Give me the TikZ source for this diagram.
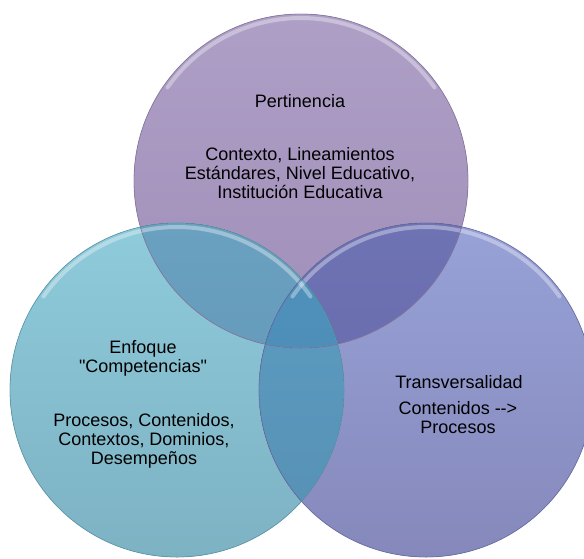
\documentclass[tikz,border=0pt]{standalone}
\usepackage{fontspec}
\setmainfont{Liberation Sans}[Ligatures=TeXOff]
\definecolor{topA}{HTML}{AE9FC7}
\definecolor{topB}{HTML}{A08FB8}
\definecolor{leftA}{HTML}{8ECBDB}
\definecolor{leftB}{HTML}{7DB2C3}
\definecolor{rightA}{HTML}{97A2D7}
\definecolor{rightB}{HTML}{8688BB}
\definecolor{tlA}{HTML}{6BA1C0}
\definecolor{tlB}{HTML}{5E93B3}
\definecolor{trA}{HTML}{6E73B4}
\definecolor{trB}{HTML}{6465A7}
\definecolor{lrA}{HTML}{5C9DC2}
\definecolor{lrB}{HTML}{5790B4}
\definecolor{midA}{HTML}{4F92BC}
\definecolor{midB}{HTML}{4A8AB4}
\definecolor{rimTop}{HTML}{8A7AA2}
\definecolor{rimLeft}{HTML}{5E9AAE}
\definecolor{rimRight}{HTML}{6B70A8}
\tikzset{
  lbl/.style={align=center, inner sep=0pt, font=\fontsize{18}{19}\selectfont, text=black},
  rim/.style={line width=0.8pt, draw opacity=0.8},
  glow/.style={white, line width=4pt, draw opacity=0.35, line cap=round}
}
\begin{document}
\begin{tikzpicture}[x=1pt,y=1pt]
\useasboundingbox (0,0) rectangle (584,-558);
\def\R{167}
\coordinate (pt) at (301,-181);
\coordinate (pl) at (177,-390);
\coordinate (pr) at (426,-390);
% base fills
\fill[top color=topA, bottom color=topB] (pt) circle (\R);
\fill[top color=leftA, bottom color=leftB] (pl) circle (\R);
\fill[top color=rightA, bottom color=rightB] (pr) circle (\R);
% pairwise overlaps
\begin{scope}
  \clip (pt) circle (\R);
  \fill[top color=tlA, bottom color=tlB] (pl) circle (\R);
  \fill[top color=trA, bottom color=trB] (pr) circle (\R);
\end{scope}
\begin{scope}
  \clip (pl) circle (\R);
  \fill[top color=lrA, bottom color=lrB] (pr) circle (\R);
\end{scope}
\begin{scope}
  \clip (pt) circle (\R);
  \clip (pl) circle (\R);
  \fill[top color=midA, bottom color=midB] (pr) circle (\R);
\end{scope}
% top glows
\draw[glow] ([shift={(35:\R-4)}]pt) arc[start angle=35, end angle=145, radius=\R-4];
\draw[glow] ([shift={(35:\R-4)}]pl) arc[start angle=35, end angle=145, radius=\R-4];
\draw[glow] ([shift={(35:\R-4)}]pr) arc[start angle=35, end angle=145, radius=\R-4];
% rims
\draw[rim, draw=rimTop] (pt) circle (\R);
\draw[rim, draw=rimLeft] (pl) circle (\R);
\draw[rim, draw=rimRight] (pr) circle (\R);
% texts
\node[lbl] (tperti) at (300,-101) {Pertinencia};
\node[lbl] (tctx) at (300,-173) {Contexto, Lineamientos\\Estándares, Nivel Educativo,\\Institución Educativa};
\node[lbl] (tenf) at (143,-358.5) {Enfoque\\"Competencias"};
\node[lbl] (tproc) at (144,-441) {Procesos, Contenidos,\\Contextos, Dominios,\\Desempeños};
\node[lbl] (ttrans) at (459,-382) {Transversalidad};
\node[lbl] (tcont) at (458,-418) {Contenidos -->\\Procesos};
\end{tikzpicture}
\end{document}
